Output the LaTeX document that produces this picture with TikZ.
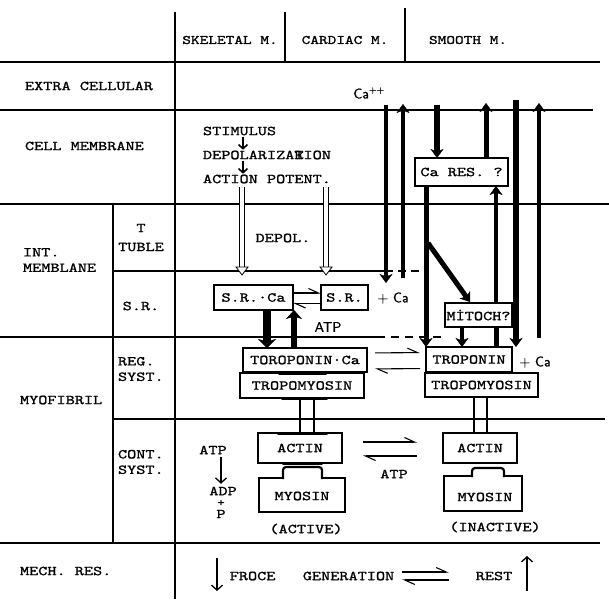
\documentclass[tikz,border=0pt]{standalone}
\usepackage{fontspec}
\setmonofont[FakeStretch=1.28,FakeBold=1.2]{lmmono10-regular.otf}
\setsansfont[FakeBold=0.8]{lmsans10-regular.otf}
\usetikzlibrary{arrows.meta,calc}
\newcommand{\pica}{\ttfamily\fontsize{13.6}{15.5}\selectfont}
\newcommand{\elite}{\ttfamily\fontsize{12.9}{14}\selectfont}
\newcommand{\sanstxt}{\sffamily\fontsize{14}{15}\selectfont}
\tikzset{
  every node/.style={inner sep=0pt, outer sep=0pt, font=\pica},
  box/.style={draw, line width=1.1pt, minimum height=25pt},
  rulel/.style={line width=1.2pt},
  cflow/.style={-{Stealth[width=#1,length=9pt,inset=2.5pt,line width=0.4pt]}},
  cflow/.default=13pt,
  harp/.style={line width=1.1pt, -{Straight Barb[harpoon,width=9pt,length=10pt,line width=1.1pt]}},
  thinarr/.style={line width=1.3pt, -{Straight Barb[width=11pt,length=5pt,line width=1.3pt]}},
  smallarr/.style={line width=1.6pt, -{Straight Barb[width=9pt,length=4pt,line width=1.6pt]}},
  bind/.style={line width=3pt, line cap=round},
  dblline/.style={line width=0.8pt, double distance=3.5pt},
  hollowhead/.style={line width=0.8pt, fill=white},
  lbl/.style={anchor=west, align=left}
}
\begin{document}
\begin{tikzpicture}[x=1pt,y=-1pt]
\useasboundingbox (0,0) rectangle (609,599);
% ---- table rules
\draw[rulel] (0,62) -- (600,62);
\draw[rulel] (0,110) -- (593,110);
\draw[rulel] (0,204) -- (609,204);
\draw[rulel] (113,271) -- (385,271);
\draw[rulel, dash pattern=on 8pt off 5pt] (385,271) -- (420,271);
\draw[rulel] (0,337) -- (377,337);
\draw[rulel, dash pattern=on 8pt off 6pt] (377,337) -- (445,337);
\draw[rulel] (113,419) -- (605,419);
\draw[rulel] (0,543) -- (600,543);
\draw[rulel] (175,12) -- (175,599);
\draw[rulel] (285,12) -- (285,62);
\draw[rulel] (405,8) -- (405,62);
\draw[rulel] (113,204) -- (113,543);
% ---- headers
\node[font=\elite] (hsk) at (230,40) {SKELETAL M.};
\node[font=\elite] (hca) at (345,40) {CARDIAC M.};
\node[font=\elite] (hsm) at (468,40) {SMOOTH M.};
% ---- row labels
\node[lbl] (lex) at (25,86) {EXTRA CELLULAR};
\node[lbl] (lcm) at (25,146) {CELL MEMBRANE};
\node[lbl] (lint) at (23,260) {INT.\\MEMBLANE};
\node[lbl] (lmyo) at (20,400) {MYOFIBRIL};
\node[lbl] (lmech) at (20,571) {MECH. RES.};
\node (ltt1) at (141,228) {T};
\node (ltt2) at (141,247) {TUBLE};
\node (lsr) at (141,306) {S.R.};
\node[lbl] (lreg) at (118,369) {REG.\\SYST.};
\node[lbl] (lcont) at (118,462) {CONT.\\SYST.};
% ---- cell membrane chain
\node[anchor=west] (stim) at (203,131) {STIMULUS};
\node[anchor=west] (depo) at (203,155) {DEPOLARIZA\rlap{T}RION};
\node[anchor=west] (actp) at (203,179) {ACTION POTENT.};
\draw[smallarr] ($(stim.south west)+(40,2)$) -- ($(depo.north west)+(40,-1)$);
\draw[smallarr] ($(depo.south west)+(40,2)$) -- ($(actp.north west)+(40,-1)$);
\node (depol) at (283,238) {DEPOL.};
\coordinate (h1) at (242,275);
\coordinate (h2) at (326,275);
\draw[dblline] (actp.south -| h1) ++(0,4) -- ($(h1)+(0,-6)$);
\draw[dblline] (actp.south -| h2) ++(0,4) -- ($(h2)+(0,-6)$);
\draw[hollowhead] ($(h1)+(-6,-8)$) -- (h1) -- ($(h1)+(6,-8)$) -- cycle;
\draw[hollowhead] ($(h2)+(-6,-8)$) -- (h2) -- ($(h2)+(6,-8)$) -- cycle;
% ---- S.R.
\node[box, minimum width=79pt] (srca) at (253.5,297.5) {S.R.·Ca};
\node[box, minimum width=47pt] (sr) at (344.5,297.5) {S.R.};
\node[font=\sanstxt] (srpl) at (393,298) {+\,\,Ca};
\draw[harp] ([yshift=4.5pt]srca.east) -- ([yshift=4.5pt]sr.west);
\draw[harp] ([yshift=-6pt]sr.west) -- ([yshift=-6pt]srca.east);
% ---- regulatory
\node[box, minimum width=124pt, minimum height=24pt] (tnca) at (305,360) {TOROPONIN·Ca};
\node[box, minimum width=124pt] (tmL) at (302,385.5) {TROPOMYOSIN};
\node[box, minimum width=86pt] (tn) at (469,359.5) {TROPONIN};
\node[box, minimum width=113pt, minimum height=24pt] (tmR) at (481.5,385) {TROPOMYOSIN};
\node[font=\sanstxt] (tnpl) at (535,362) {+\,\,Ca};
\coordinate (xS1) at (267,0);
\coordinate (xS2) at (294,0);
\draw[cflow=18pt, line width=8pt] (srca.south -| xS1) -- (tnca.north -| xS1);
\draw[cflow=16pt, line width=6pt] (tnca.north -| xS2) -- (srca.south -| xS2);
\node[font=\sanstxt] (atpsr) at (328,327) {ATP};
\draw[harp, shorten <=8pt, shorten >=6pt] ([yshift=7pt]tnca.east) -- ([yshift=7pt]tn.west);
\draw[harp, shorten <=6pt, shorten >=8pt] ([yshift=-9pt]tn.west) -- ([yshift=-9pt]tnca.east);
% ---- Ca flows
\node[box, minimum width=93pt, minimum height=28pt] (cares) at (461.5,172) {Ca RES. ?};
\node[box, minimum width=67pt, minimum height=24pt] (mito) at (478.5,315) {MİTOCH?};
\node[font=\sanstxt] (caext) at (369,93) {Ca\textsuperscript{++}};
\coordinate (tA) at (386,105); \coordinate (bA) at (386,283);
\draw[cflow, line width=4pt] (tA) -- (bA);
\coordinate (bB) at (403,278); \coordinate (tB) at (403,104);
\draw[cflow, line width=3.5pt] (bB) -- (tB);
\coordinate (tC) at (437,105);
\draw[cflow, line width=6pt] (tC) -- (tC |- cares.north);
\coordinate (tD) at (486,103);
\draw[cflow, line width=5pt] (tD |- cares.north) -- (tD);
\coordinate (tE) at (516,100);
\draw[cflow, line width=6pt] (tE) -- (tE |- tn.north);
\coordinate (bF) at (539,338); \coordinate (tF) at (539,103);
\draw[cflow, line width=4pt] (bF) -- (tF);
\coordinate (xG) at (426,0);
\draw[cflow, line width=5pt] (cares.south -| xG) -- (tn.north -| xG);
\coordinate (g1) at (428,243);
\draw[cflow, line width=5pt] (g1) -- ($(mito.north west)+(25,-1)$);
\coordinate (xH) at (496,0);
\draw[cflow, line width=4.5pt] (mito.north -| xH) -- (cares.south -| xH);
\draw[line width=5pt] (mito.south -| xH) -- (tn.north -| xH);
\coordinate (xM) at (462,0);
\draw[cflow, line width=4.5pt] (mito.south -| xM) -- (tn.north -| xM);
% ---- contractile
\node[box, minimum width=84pt, minimum height=30pt] (acL) at (300,448) {ACTIN};
\node[box, minimum width=74pt, minimum height=30pt] (acR) at (480,448) {ACTIN};
\draw[line width=1.1pt] ($(tmL.south)+(-2,0)$) -- (acL.north);
\draw[line width=1.1pt] ($(tmL.south)+(12,0)$) -- ($(acL.north)+(14,0)$);
\draw[line width=1.1pt] ($(tmR.south)+(-7.5,0)$) -- ($(acR.north)+(-6,0)$);
\draw[line width=1.1pt] ($(tmR.south)+(5.5,0)$) -- ($(acR.north)+(7,0)$);
\draw[bind] ($(tmL.north)+(-23,0)$) -- ($(tmL.north)+(24,0)$);
\draw[bind] ($(tmL.south)+(-20,0)$) -- ($(tmL.south)+(25,0)$);
\draw[bind] ($(acL.north)+(-22,0)$) -- ($(acL.north)+(27,0)$);
\draw[bind] ($(acL.south)+(-17,0)$) -- ($(acL.south)+(22,0)$);
% myosin left
\draw[line width=1.1pt] (283,478) -- (259,478) -- (259,512) -- (345,512) -- (345,478) -- (322,478);
\draw[line width=2.2pt, rounded corners=3pt] (283,479) -- (283,467) -- (322,467) -- (322,479);
\node (myL) at (302,496) {MYOSIN};
% myosin right
\draw[line width=1.1pt] (472,476) -- (444,476) -- (444,511) -- (522,511) -- (522,476) -- (504,476);
\draw[line width=2.2pt, rounded corners=3pt] (472,477) -- (472,468) -- (504,468) -- (504,477);
\node (myR) at (485,497) {MYOSIN};
\node (actv) at (306,529) {(ACTIVE)};
\node (inactv) at (495,527) {(INACTIVE)};
\draw[harp, shorten <=21pt, shorten >=26pt] ([yshift=6pt]acL.east) -- ([yshift=6pt]acR.west);
\draw[harp, shorten <=26pt, shorten >=21pt] ([yshift=-8pt]acR.west) -- ([yshift=-8pt]acL.east);
\node (atp2) at (394,474) {ATP};
\node (atp1) at (213,450) {ATP};
\node (adp) at (223,491) {ADP};
\node[font=\ttfamily\bfseries\fontsize{11}{11}\selectfont] (pls) at (221,503) {+};
\node (pp) at (221,514) {P};
\draw[thinarr] ([xshift=8pt, yshift=-3pt]atp1.south) -- ([xshift=-2pt, yshift=3pt]adp.north);
% ---- mechanical response
\node (fg) at (312,576) {FROCE\ \ \ GENERATION};
\node (rest) at (494,576) {REST};
\draw[harp, shorten <=8pt, shorten >=27pt] ([yshift=4pt]fg.east) -- ([yshift=4pt]rest.west);
\draw[harp, shorten <=27pt, shorten >=8pt] ([yshift=-4pt]rest.west) -- ([yshift=-4pt]fg.east);
\coordinate (dn1) at (217,558);
\draw[thinarr] (dn1) -- ++(0,33);
\coordinate (up1) at (527,591);
\draw[thinarr] (up1) -- ++(0,-35);
\end{tikzpicture}
\end{document}
